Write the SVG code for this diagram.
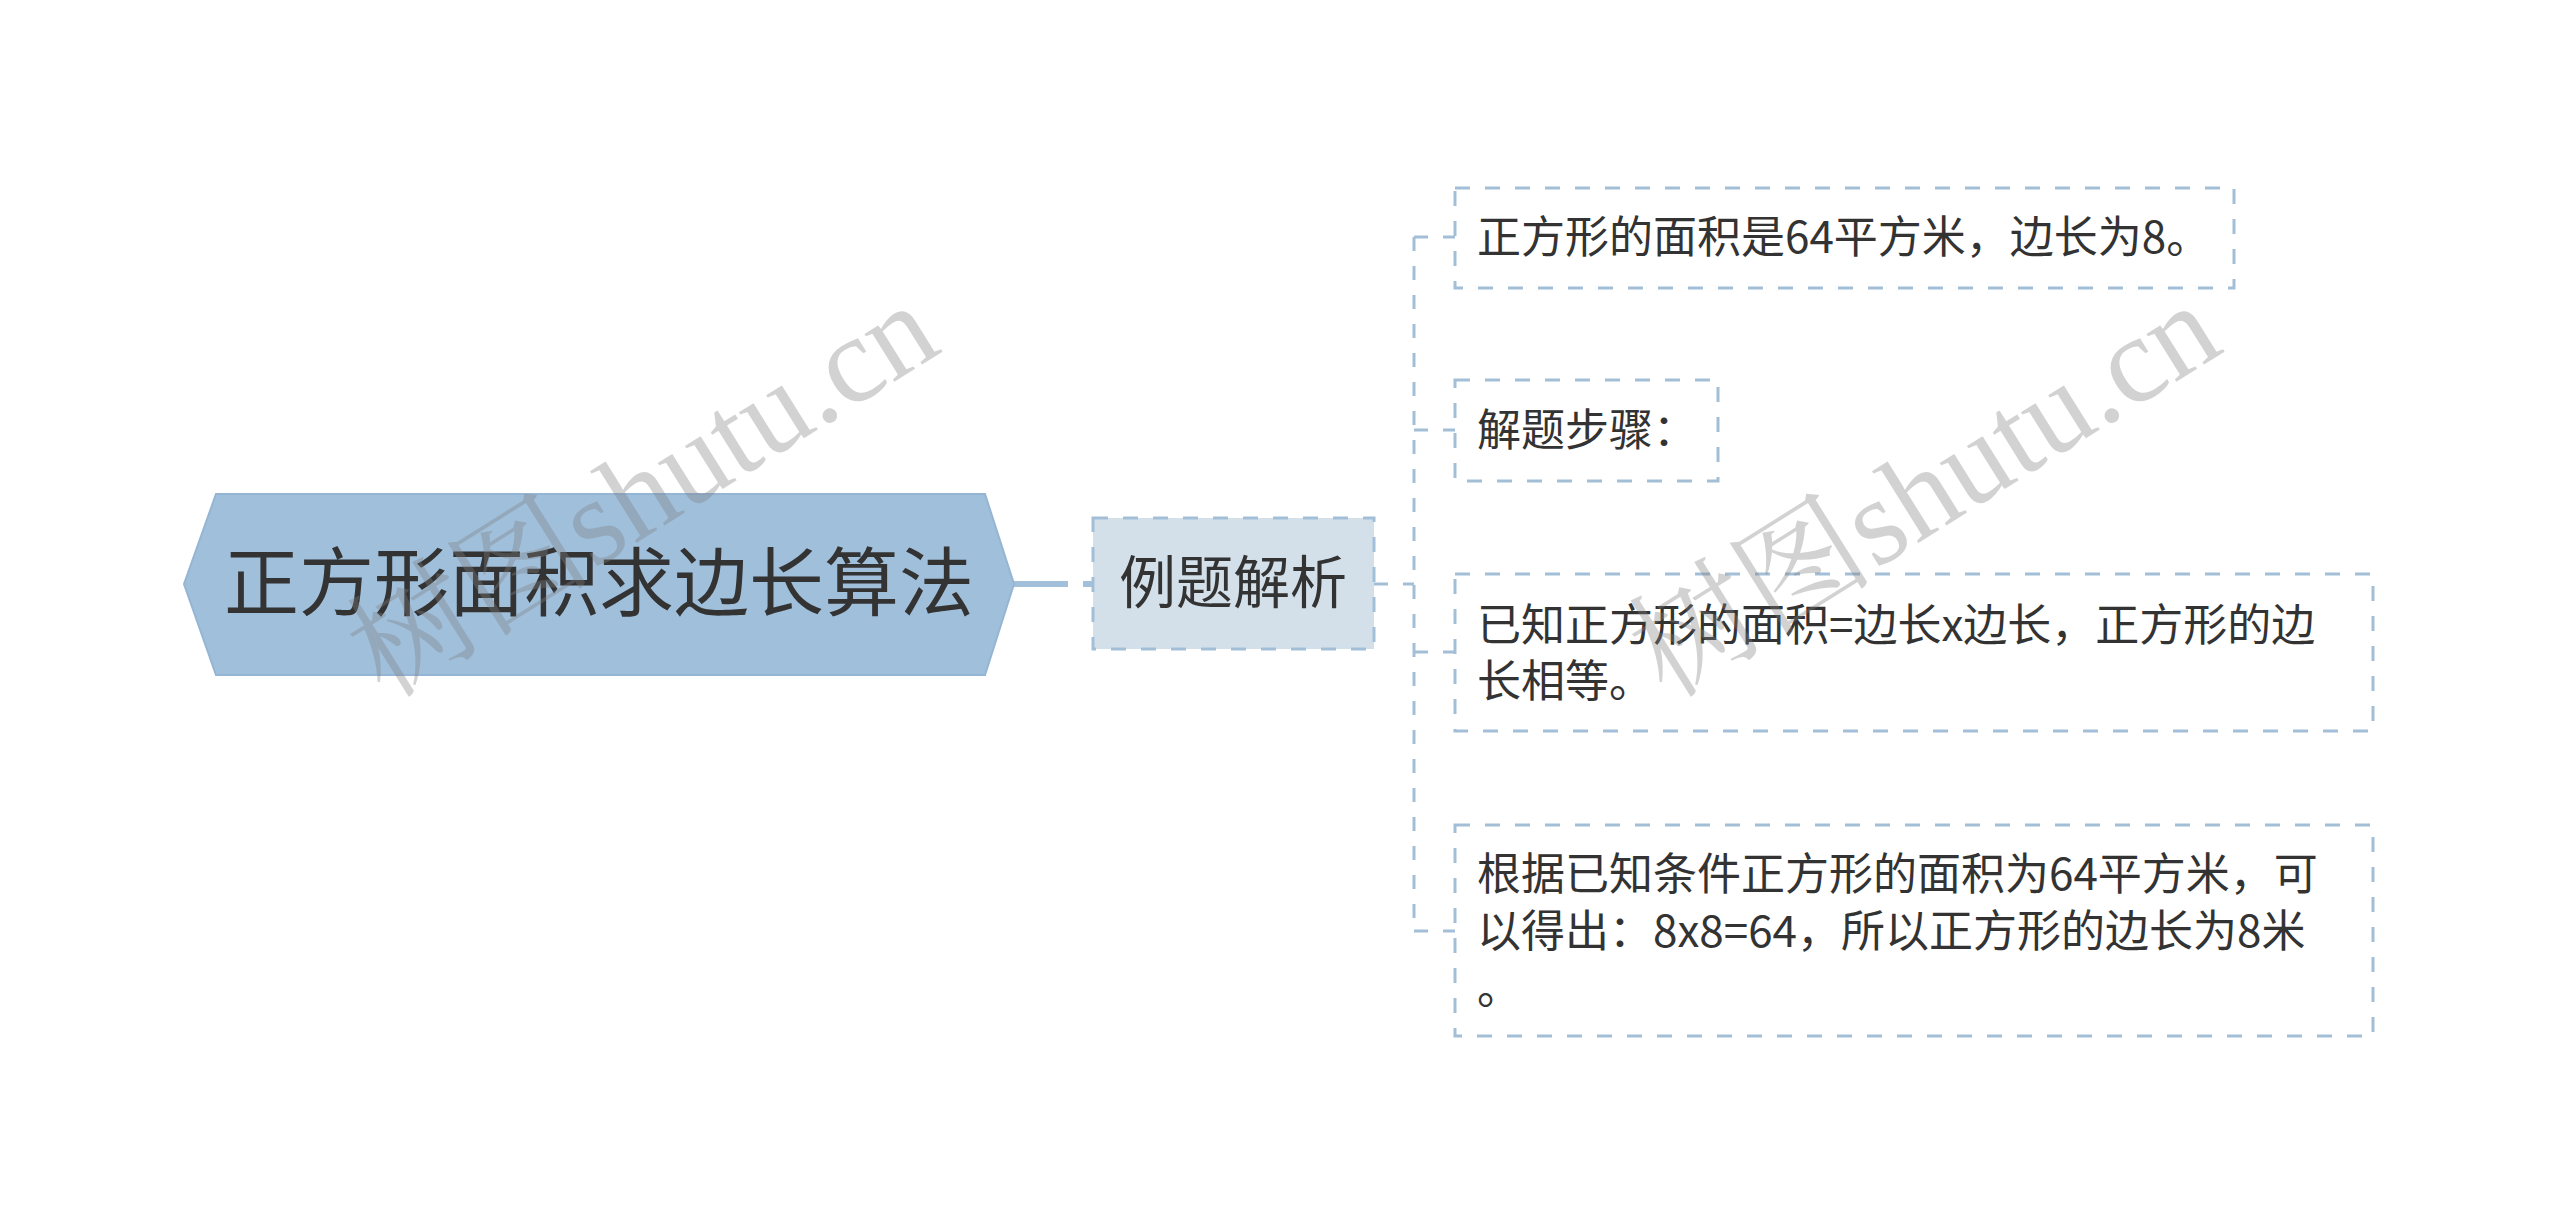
<svg xmlns="http://www.w3.org/2000/svg" width="2560" height="1224" viewBox="0 0 2560 1224">
<style>
.t{font-family:"Noto Sans CJK SC","Noto Sans",sans-serif;fill:#333333}
.c{font-size:44px}
.box{fill:#ffffff;stroke:#a3bfd7;stroke-width:3;stroke-dasharray:15 15}
.con{fill:none;stroke:#a3bfd7;stroke-width:3;stroke-dasharray:14 15}
.wm{font-family:"Liberation Serif","Noto Serif CJK SC","Noto Sans CJK SC",serif;font-size:123px;fill:#808080;opacity:0.35}
</style>
<rect width="2560" height="1224" fill="#ffffff"/>
<g id="connectors">
<line x1="1014" y1="584" x2="1093" y2="584" stroke="#a3c0db" stroke-width="6" stroke-dasharray="54 15"/>
<path class="con" d="M1374 584 H1414"/>
<path class="con" d="M1414 237 V931"/>
<path class="con" d="M1414 237 H1455"/>
<path class="con" d="M1414 430 H1455"/>
<path class="con" d="M1414 652 H1455"/>
<path class="con" d="M1414 931 H1455"/>
</g>
<g id="root">
<polygon points="184,584 216,494 985,494 1014,584 985,675 216,675" fill="#a0bfdb" stroke="#95b5d4" stroke-width="2"/>
<text class="t" x="599" y="610" font-size="75" text-anchor="middle">正方形面积求边长算法</text>
</g>
<g id="n-example">
<rect x="1093" y="518" width="281" height="131" fill="#d3e0ea" stroke="#a3bfd7" stroke-width="3" stroke-dasharray="15 15"/>
<text class="t" x="1233" y="603" font-size="57" text-anchor="middle">例题解析</text>
</g>
<g id="n1">
<rect class="box" x="1455" y="188" width="779" height="100"/>
<text class="t c" x="1477" y="253">正方形的面积是64平方米，边长为8。</text>
</g>
<g id="n2">
<rect class="box" x="1455" y="380" width="263" height="101"/>
<text class="t c" x="1477" y="446">解题步骤：</text>
</g>
<g id="n3">
<rect class="box" x="1455" y="574" width="918" height="157"/>
<text class="t c" x="1477" y="641">已知正方形的面积=边长x边长，正方形的边</text>
<text class="t c" x="1477" y="697">长相等。</text>
</g>
<g id="n4">
<rect class="box" x="1455" y="825" width="918" height="211"/>
<text class="t c" x="1477" y="890">根据已知条件正方形的面积为64平方米，可</text>
<text class="t c" x="1477" y="947">以得出：8x8=64，所以正方形的边长为8米</text>
<text class="t c" x="1477" y="1004">。</text>
</g>
<g id="watermarks">
<text class="wm" transform="translate(385,700) rotate(-32)">树图shutu.cn</text>
<text class="wm" transform="translate(1667,700) rotate(-32)">树图shutu.cn</text>
</g>
</svg>
